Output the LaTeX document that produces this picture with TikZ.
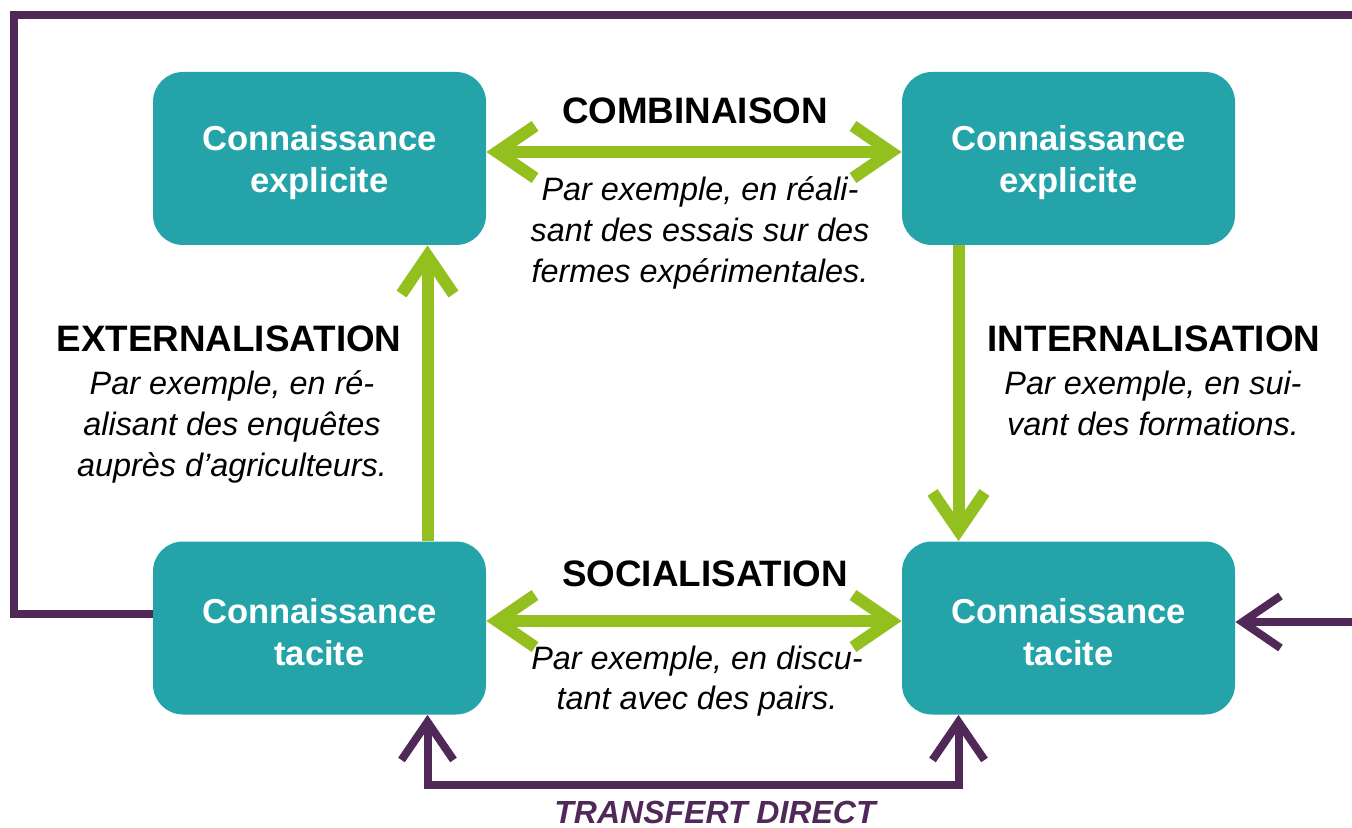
\documentclass[tikz,border=0pt]{standalone}
\usepackage{fontspec}
\setmainfont{Liberation Sans}
\usepackage{tikz}
\usetikzlibrary{arrows.meta}
\definecolor{boxteal}{RGB}{36,163,169}
\definecolor{leaf}{RGB}{147,192,31}
\definecolor{plum}{RGB}{81,41,89}
\newcommand\lowered{\rule{0pt}{16.5pt}}

\begin{document}
\begin{tikzpicture}[x=0.5pt,y=-0.5pt,>={Straight Barb[length=19pt,width=26pt]},
  know/.style={fill=boxteal,text=white,rounded corners=15pt,minimum width=166.5pt,
    minimum height=86.5pt,align=center,font=\bfseries\fontsize{17.3}{21}\selectfont},
  mode/.style={font=\bfseries\fontsize{18.4}{22}\selectfont},
  example/.style={align=center,font=\itshape\fontsize{16.2}{20.3}\selectfont},
  flow/.style={draw=leaf,line width=6pt,->},
  transfer/.style={draw=plum,line width=4pt}]
  \useasboundingbox (0,0) rectangle (1352,828);
  %\draw[help lines] (0,0) grid[step=100] (1352,828);
  % the four kinds of knowledge
  \node[know] (tl) at (319.5,158.5) {\lowered Connaissance\\explicite};
  \node[know] (tr) at (1068.5,158.5) {\lowered Connaissance\\explicite};
  \node[know] (bl) at (319.5,628) {\lowered Connaissance\\tacite};
  \node[know] (br) at (1068.5,628) {\lowered Connaissance\\tacite};
  % conversions
  \draw[flow,<->] ([yshift=3.25pt]tl.east) -- ([yshift=3.25pt]tr.west);
  \draw[flow,<->] ([yshift=3.5pt]bl.east) -- ([yshift=3.5pt]br.west);
  \draw[flow] ([xshift=54pt]bl.north) -- ([xshift=54pt]tl.south);
  \draw[flow] ([xshift=-55pt]tr.south) -- ([xshift=-55pt]br.north);
  \node[mode] (comb) at (695,111) {COMBINAISON};
  \node[example] (combex) at (700,233) {Par exemple, en réali-\\sant des essais sur des\\fermes expérimentales.};
  \node[mode] (ext) at (229,339) {EXTERNALISATION};
  \node[example] (extex) at (232,427) {Par exemple, en ré-\\alisant des enquêtes\\auprès d’agriculteurs.};
  \node[mode] (int) at (1154,339) {INTERNALISATION};
  \node[example] (intex) at (1153,403.5) {Par exemple, en sui-\\vant des formations.};
  \node[mode] (soc) at (705,574) {SOCIALISATION};
  \node[example] (socex) at (697,681) {Par exemple, en discu-\\tant avec des pairs.};
  % direct transfer and loop
  \coordinate (loopnw) at (14,15);
  \coordinate (loopend) at (1352,15);
  \coordinate (inflow) at (1352,622);
  \draw[transfer] ([yshift=7pt]bl.west) -| (loopnw) -- (loopend);
  \draw[transfer,->] (inflow) -- (br.east |- inflow);
  \draw[transfer,<->] ([xshift=54pt]bl.south) -- ++(0,-35pt) -| ([xshift=-55pt]br.south);
  \node[text=plum,font=\bfseries\itshape\fontsize{16}{20}\selectfont] (direct) at (715,812) {TRANSFERT DIRECT};
\end{tikzpicture}
\end{document}
